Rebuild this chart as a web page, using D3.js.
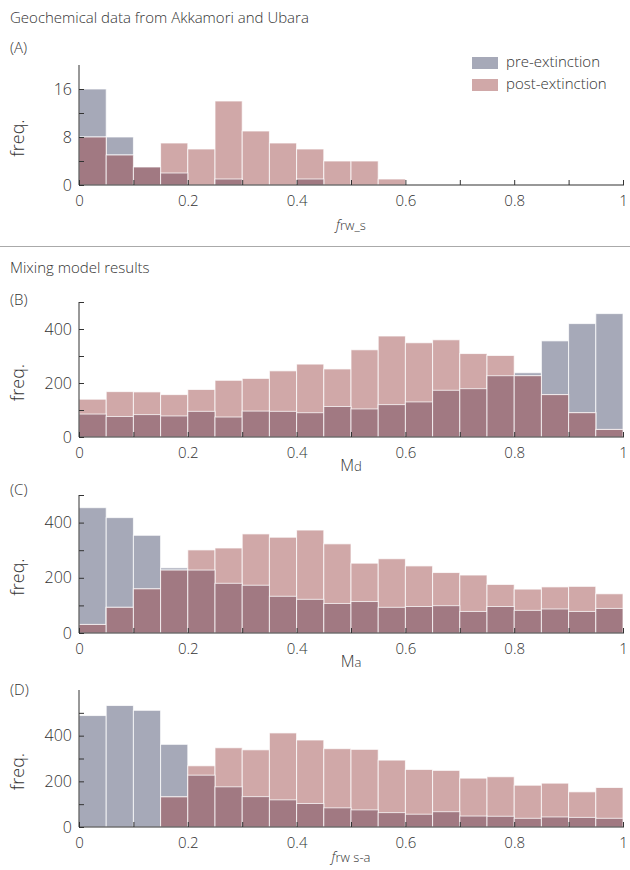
<!DOCTYPE html>
<html>
<head>
<meta charset="utf-8">
<script src="https://cdn.jsdelivr.net/npm/d3@7"></script>
<style>
  body { margin: 0; background: #fff; }
  svg text { font-family: "Open Sans", Roboto, "Liberation Sans", sans-serif; font-weight: 300; fill: #333; }
</style>
</head>
<body>
<svg id="chart" width="630" height="870"></svg>
<script>
// Bin edges: 20 bins of width 0.05 on [0, 1]
const binEdges = d3.range(0, 1.0001, 0.05);
const xTicks = [0, 0.1, 0.2, 0.3, 0.4, 0.5, 0.6, 0.7, 0.8, 0.9, 1];
const xTickLabels = ["0", "", "0.2", "", "0.4", "", "0.6", "", "0.8", "", "1"];

// Panel A: geochemical data f_rw_s
const aPre  = [16, 8, 3, 2, 0, 1, 0, 0, 1, 0, 0, 0, 0, 0, 0, 0, 0, 0, 0, 0];
const aPost = [8, 5, 3, 7, 6, 14, 9, 7, 6, 4, 4, 1, 0, 0, 0, 0, 0, 0, 0, 0];
const aYTicks = [0, 4, 8, 12, 16];
const aYLabels = ["0", "", "8", "", "16"];

// Panel B: Md
const bPre  = [85, 76, 83, 78, 95, 74, 96, 95, 90, 113, 104, 120, 130, 173, 179, 227, 238, 356, 420, 457];
const bPost = [140, 168, 167, 157, 176, 210, 217, 245, 270, 252, 323, 374, 349, 360, 309, 302, 227, 157, 90, 28];

// Panel C: Ma
const cPre  = [454, 418, 354, 236, 228, 180, 173, 133, 122, 107, 114, 93, 96, 99, 78, 96, 82, 87, 78, 89];
const cPost = [31, 93, 160, 228, 301, 308, 359, 347, 373, 323, 253, 269, 243, 219, 210, 176, 159, 167, 169, 142];

// Panel D: f_rw s-a
const dPre  = [488, 532, 511, 362, 227, 176, 133, 119, 103, 84, 75, 63, 56, 67, 48, 47, 38, 44, 42, 38];
const dPost = [0, 0, 0, 132, 268, 347, 338, 412, 381, 343, 340, 293, 252, 248, 214, 220, 183, 192, 154, 173];

const mixYTicks = [0, 100, 200, 300, 400, 500];
const mixYLabels = ["0", "", "200", "", "400", ""];

const seriesNames = ["pre-extinction", "post-extinction"];

const colPre = "#a6a9b8", colPost = "#d0a8a8", colBoth = "#a17982";

const svg = d3.select("#chart");

function panel(cfg) {
  const x = d3.scaleLinear().domain([0, 1]).range([79, 623]);
  const y = d3.scaleLinear().domain([0, cfg.yMax]).range([cfg.base, cfg.top]);
  const g = svg.append("g");
  const bins = binEdges.slice(0, -1).map((e, i) => ({x0: e, x1: binEdges[i + 1], pre: cfg.pre[i], post: cfg.post[i]}));
  const val = (d, key) => key === "both" ? Math.min(d.pre, d.post) : d[key];
  const drawLayer = (key, color) => {
    g.append("g").selectAll("rect").data(bins.filter(d => val(d, key) > 0)).join("rect")
      .attr("x", d => x(d.x0))
      .attr("width", d => x(d.x1) - x(d.x0))
      .attr("y", d => y(val(d, key)))
      .attr("height", d => cfg.base - y(val(d, key)))
      .attr("fill", color)
      .attr("stroke", "#fff").attr("stroke-opacity", 0.75).attr("stroke-width", 1);
  };
  drawLayer("pre", colPre);
  drawLayer("post", colPost);
  drawLayer("both", colBoth);

  // axes
  const ya = d3.axisLeft(y).tickValues(cfg.yTicks).tickFormat((d, i) => cfg.yLabels[i]).tickSize(-5).tickPadding(7);
  const gy = g.append("g").attr("transform", "translate(79,0)").call(ya);
  gy.select(".domain").remove();
  gy.append("line").attr("x1", 0).attr("x2", 0).attr("y1", cfg.base).attr("y2", cfg.top).attr("stroke", "#333").attr("stroke-width", 1);
  gy.selectAll(".tick line").attr("stroke", "#333");
  gy.selectAll(".tick text").style("font-size", "16px").attr("fill", "#333");

  const xa = d3.axisBottom(x).tickValues(xTicks).tickFormat((d, i) => xTickLabels[i]).tickSize(-5).tickPadding(10);
  const gx = g.append("g").attr("transform", `translate(0,${cfg.base})`).call(xa);
  gx.select(".domain").remove();
  gx.append("line").attr("x1", 79).attr("x2", 624).attr("y1", 0).attr("y2", 0).attr("stroke", "#333").attr("stroke-width", 1.2);
  gx.selectAll(".tick line").attr("stroke", "#333");
  gx.selectAll(".tick text").style("font-size", "15px").attr("fill", "#333");

  // y label
  g.append("text").attr("transform", `translate(24,${(cfg.base + cfg.top) / 2 + 13}) rotate(-90)`)
    .attr("text-anchor", "middle").style("font-size", "18px").text("freq.");

  // x label
  const xl = g.append("text").attr("x", 351).attr("y", cfg.base + cfg.xlabOff).attr("text-anchor", "middle");
  cfg.xlab.forEach(p => {
    const t = xl.append("tspan").text(p.t).style("font-size", p.size + "px");
    if (p.italic) t.style("font-style", "italic");
  });

  // panel letter
  svg.append("text").attr("x", 10).attr("y", cfg.letterY).style("font-size", "15px").text(cfg.letter);
}

// titles
svg.append("text").attr("x", 10).attr("y", 23).style("font-size", "15px").text("Geochemical data from Akkamori and Ubara");
svg.append("line").attr("x1", 0).attr("x2", 630).attr("y1", 246.5).attr("y2", 246.5).attr("stroke", "#aaa").attr("stroke-width", 1);
svg.append("text").attr("x", 10).attr("y", 273).style("font-size", "15px").text("Mixing model results");

panel({pre: aPre, post: aPost, yMax: 20, base: 185, top: 65, yTicks: aYTicks, yLabels: aYLabels, letter: "(A)", letterY: 53,
  xlab: [{t: "f", size: 14, italic: true}, {t: "rw_s", size: 13}], xlabOff: 45});
panel({pre: bPre, post: bPost, yMax: 500, base: 437, top: 302, yTicks: mixYTicks, yLabels: mixYLabels, letter: "(B)", letterY: 305,
  xlab: [{t: "M", size: 16}, {t: "d", size: 13}], xlabOff: 34});
panel({pre: cPre, post: cPost, yMax: 500, base: 633, top: 495, yTicks: mixYTicks, yLabels: mixYLabels, letter: "(C)", letterY: 495,
  xlab: [{t: "M", size: 16}, {t: "a", size: 13}], xlabOff: 34});
panel({pre: dPre, post: dPost, yMax: 600, base: 827, top: 690, yTicks: mixYTicks, yLabels: mixYLabels, letter: "(D)", letterY: 695,
  xlab: [{t: "f", size: 14, italic: true}, {t: "rw s-a", size: 13}], xlabOff: 35});

// legend
const lg = svg.append("g");
seriesNames.forEach((n, i) => {
  lg.append("rect").attr("x", 472).attr("y", 57 + i * 22).attr("width", 26).attr("height", 12).attr("fill", i === 0 ? colPre : colPost);
  lg.append("text").attr("x", 506).attr("y", 67 + i * 22).style("font-size", "15px").text(n);
});
</script>
</body>
</html>
